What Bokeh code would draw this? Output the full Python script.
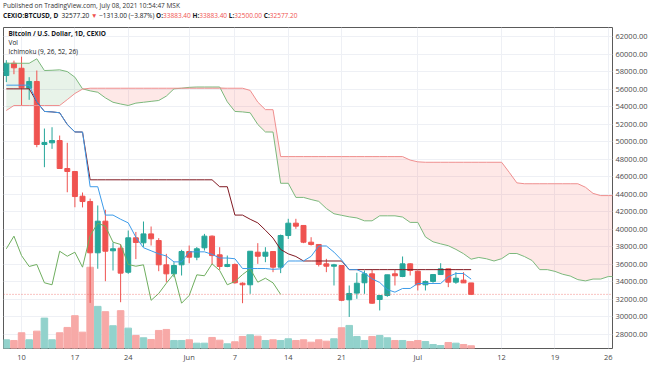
from bokeh.plotting import figure
from bokeh.models import Range1d, FixedTicker, Label, Span, ColumnDataSource, NumeralTickFormatter, Div
from bokeh.layouts import column
from bokeh.embed import file_html
from bokeh.resources import INLINE

# ---- data (day index 0 = May 8, 2021) ----
opens = [57550, 58950, 58380, 56100, 56870, 49680, 49870, 50130, 46940, 46600,
         43780, 43170, 37320, 40930, 37550, 37850, 35100, 39030, 38460, 39480,
         38720, 35950, 34920, 35950, 37470, 36820, 37890, 39220, 37090, 35760,
         35990, 33850, 33670, 37390, 36930, 37470, 35680, 39290, 40700, 40440,
         38530, 38270, 36060, 35790, 35870, 31960, 32720, 33900, 34920, 31990,
         32450, 34920, 34620, 36060, 35220, 33670, 34050, 34840, 35490, 33970,
         34200, 33883.4]
highs = [59300, 59250, 59700, 57360, 58120, 51500, 51650, 50700, 49870, 46600,
         44200, 43500, 42720, 42230, 38500, 38300, 39860, 39700, 40890, 40320,
         38990, 37200, 36250, 37660, 38150, 37980, 39480, 39300, 37960, 37010,
         36100, 33950, 37500, 38420, 37960, 37470, 39400, 41200, 41200, 40440,
         39100, 38270, 36630, 36060, 35870, 33590, 35040, 35300, 35380, 32450,
         34810, 35380, 36900, 36130, 35300, 34160, 34900, 36130, 35490, 35110,
         35110, 33883.4]
lows = [56800, 57700, 54100, 54780, 49370, 47090, 49180, 46900, 44230, 42520,
        42500, 31600, 35500, 34080, 35300, 31680, 34920, 36600, 38000, 38150,
        35220, 33970, 34540, 34730, 36130, 36470, 37580, 35950, 35380, 35680,
        33800, 31570, 32640, 36060, 36250, 35110, 35000, 38900, 40060, 38420,
        38150, 35760, 35110, 33590, 31800, 30000, 32070, 32640, 31500, 30740,
        32300, 33590, 34540, 34730, 33020, 33020, 33900, 34840, 33400, 33780,
        33880, 32500]
closes = [58950, 58430, 56150, 56870, 49680, 49900, 50130, 46940, 46600, 43740,
          43170, 37320, 40930, 37500, 37780, 35000, 39030, 38500, 39480, 38920,
          35950, 34920, 35870, 37470, 36820, 37780, 39220, 37000, 35760, 35990,
          33900, 33670, 37500, 36930, 37390, 35680, 39290, 40700, 40360, 38530,
          38270, 35990, 35790, 35950, 31900, 32680, 33850, 34920, 31570, 32450,
          34810, 34700, 36060, 35300, 33670, 34050, 34840, 35490, 33970, 34420,
          33890, 32577.2]
volumes = [870, 800, 1570, 870, 1730, 3030, 870, 1570, 2100, 3270,
           1630, 8100, 4200, 3670, 2270, 3770, 2030, 1300, 1070, 900,
           1800, 1900, 800, 800, 870, 530, 530, 1100, 830, 470,
           670, 1200, 1370, 1230, 800, 870, 800, 970, 800, 870,
           630, 870, 730, 970, 2070, 2300, 1200, 800, 1200, 1300,
           1070, 800, 800, 700, 800, 700, 400, 300, 600, 530,
           400, 270]
conversion = [56450, 56450, 56450, 56450, 54550, 53450, 53400, 53300, 51965, 51110,
              51100, 44860, 44860, 41625, 41625, 41150, 40735, 39100, 37900, 37550,
              37200, 36955, 36285, 36285, 37430, 37430, 37430, 37145, 36725, 36725,
              36640, 35525, 35525, 35525, 35525, 35435, 35485, 36385, 36385, 36385,
              36920, 38100, 38100, 37395, 36500, 35400, 35400, 35000, 34350, 33935,
              33115, 32830, 33250, 33250, 33820, 33820, 33820, 33820, 34600, 34960,
              34960, 34315]
base = [56030, 56030, 56030, 56030, 54550, 53450, 53400, 53300, 51965, 51110,
        51100, 45650, 45650, 45650, 45650, 45650, 45650, 45650, 45650, 45650,
        45650, 45650, 45650, 45650, 45650, 45650, 45650, 45650, 44860, 44860,
        41625, 41625, 41150, 40735, 39900, 39000, 37700, 37200, 36900, 36385,
        36385, 36385, 36385, 36385, 36385, 35400, 35400, 35400, 35400, 35400,
        35400, 35400, 35400, 35400, 35400, 35400, 35400, 35400, 35400, 35400,
        35400, 35400]
lead_a = [58950, 58950, 58950, 58950, 59460, 58120, 58150, 58200, 58000, 57360,
          56030, 55800, 55640, 55000, 54500, 54300, 54130, 54400, 54500, 54600,
          54700, 55200, 56030, 56100, 56200, 56240, 56240, 56240, 56240, 54550,
          53450, 53400, 53300, 51965, 51110, 51100, 45255, 45255, 43640, 43640,
          43400, 43190, 42375, 41775, 41600, 41425, 41300, 40970, 40970, 41540,
          41540, 41540, 41400, 40790, 40790, 39130, 38575, 38340, 38130, 37710,
          37220, 36590, 36790, 36640, 36385, 36650, 37240, 37240, 36890, 36440,
          35400, 35400, 35200, 34875, 34670, 34260, 34115, 34325, 34325, 34610,
          34610, 34610, 34610, 35000, 35180, 35180, 34860]
lead_b = [53560, 54130, 54130, 54130, 54130, 54130, 54130, 54130, 54800, 55500,
          56000, 56100, 56100, 56100, 56100, 56100, 56100, 56100, 56100, 56100,
          56100, 56100, 56100, 56100, 56100, 56100, 56100, 56100, 56100, 56100,
          56100, 56100, 55850, 54515, 53660, 53650, 48300, 48300, 48300, 48300,
          48300, 48300, 48300, 48300, 48300, 48300, 48300, 48300, 48300, 48300,
          48300, 48300, 48300, 47900, 47700, 47650, 47650, 47650, 47650, 47650,
          47650, 47650, 47650, 47650, 47650, 47650, 46500, 45300, 45200, 45200,
          45200, 45200, 45200, 45200, 45200, 45200, 44800, 44100, 43850, 43850,
          43850, 43850, 43850, 43850, 43850, 43850, 43850]
tick_days = [2, 9, 16, 24, 30, 37, 44, 54, 65, 72, 79]
tick_labels = ["10", "17", "24", "Jun", "7", "14", "21", "Jul", "12", "19", "26"]
price_ticks = list(range(28000, 62001, 2000))
last_close = 32577.2

UP, DN = "#26a69a", "#ef5350"
n = len(closes)
days = list(range(n))
up_flags = [c >= o for o, c in zip(opens, closes)]
cdl = ColumnDataSource(dict(
    x=days, o=opens, h=highs, l=lows, c=closes,
    top=[max(o, c) for o, c in zip(opens, closes)],
    bot=[min(o, c) for o, c in zip(opens, closes)],
    col=[UP if u else DN for u in up_flags],
    vcol=["#92d2cc" if u else "#f7a9a7" for u in up_flags],
    vol=volumes))

W = 654
HDR = 26
H = 340
BT, BB, BL, BR = 1, 18, 3, 42
FH = H - BT - BB  # frame height
FW = W - BL - BR
p = figure(width=W, height=H, output_backend="svg", toolbar_location=None,
           x_range=Range1d(-0.37, 79.55), y_range=Range1d(26400, 63030),
           y_axis_location="right", min_border_left=BL, min_border_right=BR,
           min_border_top=BT, min_border_bottom=BB, margin=(0, 0, 0, 0))
p.extra_y_ranges = {"vol": Range1d(0, 32000)}

# axes
p.yaxis.ticker = FixedTicker(ticks=price_ticks)
p.yaxis.formatter = NumeralTickFormatter(format="0.00")
p.xaxis.ticker = FixedTicker(ticks=tick_days)
p.xaxis.major_label_overrides = {d: t for d, t in zip(tick_days, tick_labels)}
for ax in (p.xaxis[0], p.yaxis[0]):
    ax.axis_line_color = None
    ax.major_tick_line_color = None
    ax.minor_tick_line_color = None
    ax.major_tick_out = 0
    ax.major_tick_in = 0
    ax.major_label_text_font = "Open Sans"
    ax.major_label_text_font_size = "7.5px"
    ax.major_label_text_color = "#4a4a4a"
p.yaxis.major_label_standoff = 3
p.xaxis.major_label_standoff = 3
p.grid.grid_line_color = "#eef0f5"
p.outline_line_color = "#5a5a5a"
p.outline_line_width = 1

# volume
p.vbar(x="x", width=0.86, top="vol", bottom=0, color="vcol", source=cdl, y_range_name="vol")

# ichimoku cloud
pos = list(range(len(lead_a)))
hi_ab = [max(a, b) for a, b in zip(lead_a, lead_b)]
p.varea(x=pos, y1=lead_b, y2=hi_ab, fill_color="#43a047", fill_alpha=0.12)
p.varea(x=pos, y1=lead_a, y2=hi_ab, fill_color="#f44336", fill_alpha=0.12)

# candles
p.segment(x0="x", y0="l", x1="x", y1="h", color="col", line_width=1, source=cdl)
p.vbar(x="x", width=0.65, top="top", bottom="bot", fill_color="col", line_color="col", source=cdl)

# ichimoku lines
p.line(pos, lead_a, line_color="#7cb87c", line_width=1)
p.line(pos, lead_b, line_color="#ef8f8f", line_width=1)
lag = closes[25:]
p.line(list(range(len(lag))), lag, line_color="#6fae5f", line_width=1)
p.line(days, base, line_color="#801922", line_width=1)
p.line(days, conversion, line_color="#3d9be9", line_width=1)

# last price line & label
p.add_layout(Span(location=last_close, dimension="width", line_color=DN,
                  line_alpha=0.7, line_dash="1 2", line_width=1))
p.add_layout(Label(x=FW + 1, y=last_close, x_units="screen", y_units="data",
                   text="32577.20", text_font="Open Sans", text_font_size="7.5px",
                   text_color="white", text_baseline="middle",
                   background_fill_color=DN, padding=2))


def lbl(x, y, t, color="#131722", bold=False, size="6.5px"):
    p.add_layout(Label(x=x, y=y, x_units="screen", y_units="screen", text=t,
                       text_font="Open Sans", text_font_size=size, text_color=color,
                       text_font_style="bold" if bold else "normal",
                       text_baseline="middle", text_align="left"))


# legend inside the chart
lbl(5, FH - 6, "Bitcoin / U.S. Dollar, 1D, CEXIO", bold=True)
lbl(5, FH - 14.7, "Vol")
lbl(5, FH - 23.5, "Ichimoku (9, 26, 52, 26)")

# header above the chart
red = "color:#ef5350"
header_html = (
    "<div style=\"font-family:'Open Sans';font-size:6.5px;line-height:10px;"
    "color:#131722;white-space:nowrap;padding:1px 0 0 3px;margin:0\">"
    "<span style='color:#333333'>Published on TradingView.com, July 08, 2021 10:54:47 MSK</span><br>"
    "<b>CEXIO:BTCUSD, D</b>&nbsp; 32577.20 <span style='" + red + "'>&#9660;</span> "
    "&minus;1313.00 (&minus;3.87%) "
    "<b>O:</b><span style='" + red + "'>33883.40</span> "
    "<b>H:</b><span style='" + red + "'>33883.40</span> "
    "<b>L:</b><span style='" + red + "'>32500.00</span> "
    "<b>C:</b><span style='" + red + "'>32577.20</span>"
    "</div>")
hdr = Div(text=header_html, width=W, height=HDR, margin=(0, 0, 0, 0))

layout = column(hdr, p, spacing=0, margin=(0, 0, 0, 0))
open("out.html", "w").write(file_html(layout, INLINE))
